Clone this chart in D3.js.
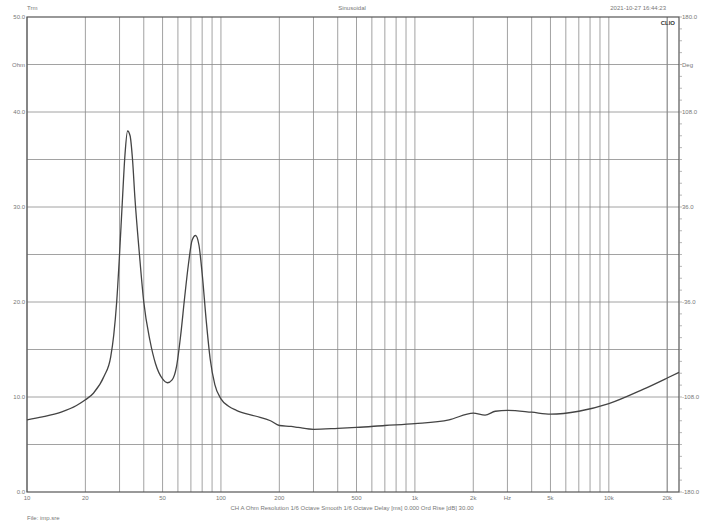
<!DOCTYPE html>
<html lang="en">
<head>
<meta charset="UTF-8">
<script src="https://cdnjs.cloudflare.com/ajax/libs/d3/7.9.0/d3.min.js"></script>
<style>
  body { margin: 0; background: #fff; }
  text { font-family: "Liberation Sans", Arial, sans-serif; font-size: 6px; fill: #777; }
</style>
</head>
<body>
<svg width="705" height="528"></svg>
<script>
// impedance curve
const freqs = [10, 12, 15, 18, 20, 22, 25, 27, 28, 29, 30, 31, 32, 33, 34, 35, 36, 38, 40, 43, 46, 50, 53, 56, 59, 62, 65, 68, 71, 74, 77, 80, 84, 88, 93, 100,
  110, 120, 150, 180, 200, 230, 250, 300, 400, 500, 700, 1000, 1500, 2000, 2300, 2600, 3000, 4000, 5000, 7000, 10000, 15000, 20000, 23000];
const ohms = [7.6, 7.9, 8.4, 9.1, 9.7, 10.4, 12.2, 14.2, 16.5, 20, 25, 30.5, 35.5, 38.0, 37.5, 35, 31, 25, 20, 16, 13.5, 11.9, 11.5, 11.8, 13.2, 16.5, 20.5, 24, 26.5, 27.0, 26, 23, 18, 14, 11.3, 9.8,
  9.0, 8.6, 8.0, 7.5, 7.0, 6.9, 6.8, 6.6, 6.7, 6.8, 7.0, 7.2, 7.6, 8.3, 8.1, 8.5, 8.6, 8.4, 8.2, 8.5, 9.3, 10.8, 12.0, 12.6];
const xTickVals = [10, 20, 50, 100, 200, 500, 1000, 2000, 5000, 10000, 20000];
const xTickLabels = ["10", "20", "50", "100", "200", "500", "1k", "2k", "5k", "10k", "20k"];
const leftTicks = [0, 10, 20, 30, 40, 50];
const rightLabels = ["-180.0", "-108.0", "-36.0", "36.0", "108.0", "180.0"];

const L = 27, R = 679, T = 17, B = 492;
const svg = d3.select("svg");
const x = d3.scaleLog().domain([10, 23000]).range([L, R]);
const y = d3.scaleLinear().domain([0, 50]).range([B, T]);
const grid = "#8a8a8a";

// vertical grid at 1..9 per decade
const vlines = [];
for (let d = 10; d <= 10000; d *= 10) for (let k = 1; k < 10; k++) if (d * k <= 20000) vlines.push(d * k);
vlines.push(20000);
svg.selectAll(".vg").data(vlines).join("line")
  .attr("x1", d => x(d)).attr("x2", d => x(d)).attr("y1", T).attr("y2", B)
  .attr("stroke", grid).attr("stroke-width", 0.8);
svg.selectAll(".hg").data(d3.range(5, 50, 5)).join("line")
  .attr("x1", L).attr("x2", R).attr("y1", d => y(d)).attr("y2", d => y(d))
  .attr("stroke", grid).attr("stroke-width", 0.8);
svg.append("rect").attr("x", L).attr("y", T).attr("width", R - L).attr("height", B - T)
  .attr("fill", "none").attr("stroke", "#555").attr("stroke-width", 1.2);

// right minor ticks
svg.selectAll(".rt").data(d3.range(0, 50.01, 50 / 40)).join("line")
  .attr("x1", R).attr("x2", R + 3).attr("y1", d => y(d)).attr("y2", d => y(d))
  .attr("stroke", "#888").attr("stroke-width", 0.6);

// labels
svg.selectAll(".lt").data(leftTicks).join("text")
  .attr("x", 25).attr("y", d => y(d) + 2).attr("text-anchor", "end").text(d => d.toFixed(1));
svg.append("text").attr("x", 12).attr("y", y(45) + 2).text("Ohm");
svg.selectAll(".rl").data(rightLabels).join("text")
  .attr("x", R + 3).attr("y", (d, i) => y(i * 10) + 2).text(d => d);
svg.append("text").attr("x", R + 3).attr("y", y(45) + 2).text("Deg");
svg.selectAll(".xl").data(xTickVals).join("text")
  .attr("x", d => x(d)).attr("y", 500).attr("text-anchor", "middle").text((d, i) => xTickLabels[i]);
svg.append("text").attr("x", x(3000)).attr("y", 500).attr("text-anchor", "middle").text("Hz");
svg.append("text").attr("x", 352).attr("y", 510).attr("text-anchor", "middle")
  .text("CH A   Ohm   Resolution 1/6 Octave   Smooth 1/6 Octave   Delay [ms] 0.000   Ord Rise [dB] 30.00");
svg.append("text").attr("x", 27).attr("y", 520).text("File: imp.sre");
svg.append("text").attr("x", 27).attr("y", 10).text("Trm");
svg.append("text").attr("x", 352).attr("y", 10).attr("text-anchor", "middle").text("Sinusoidal");
svg.append("text").attr("x", 666).attr("y", 10).attr("text-anchor", "end").text("2021-10-27 16:44:23");
svg.append("text").attr("x", 675).attr("y", 25).attr("text-anchor", "end")
  .style("fill", "#333").style("font-weight", "bold").text("CLIO");

// curve
const pts = freqs.map((f, i) => [f, ohms[i]]);
svg.append("path").datum(pts)
  .attr("d", d3.line().x(d => x(d[0])).y(d => y(d[1])).curve(d3.curveMonotoneX))
  .attr("fill", "none").attr("stroke", "#444").attr("stroke-width", 1.3);
</script>
</body>
</html>
